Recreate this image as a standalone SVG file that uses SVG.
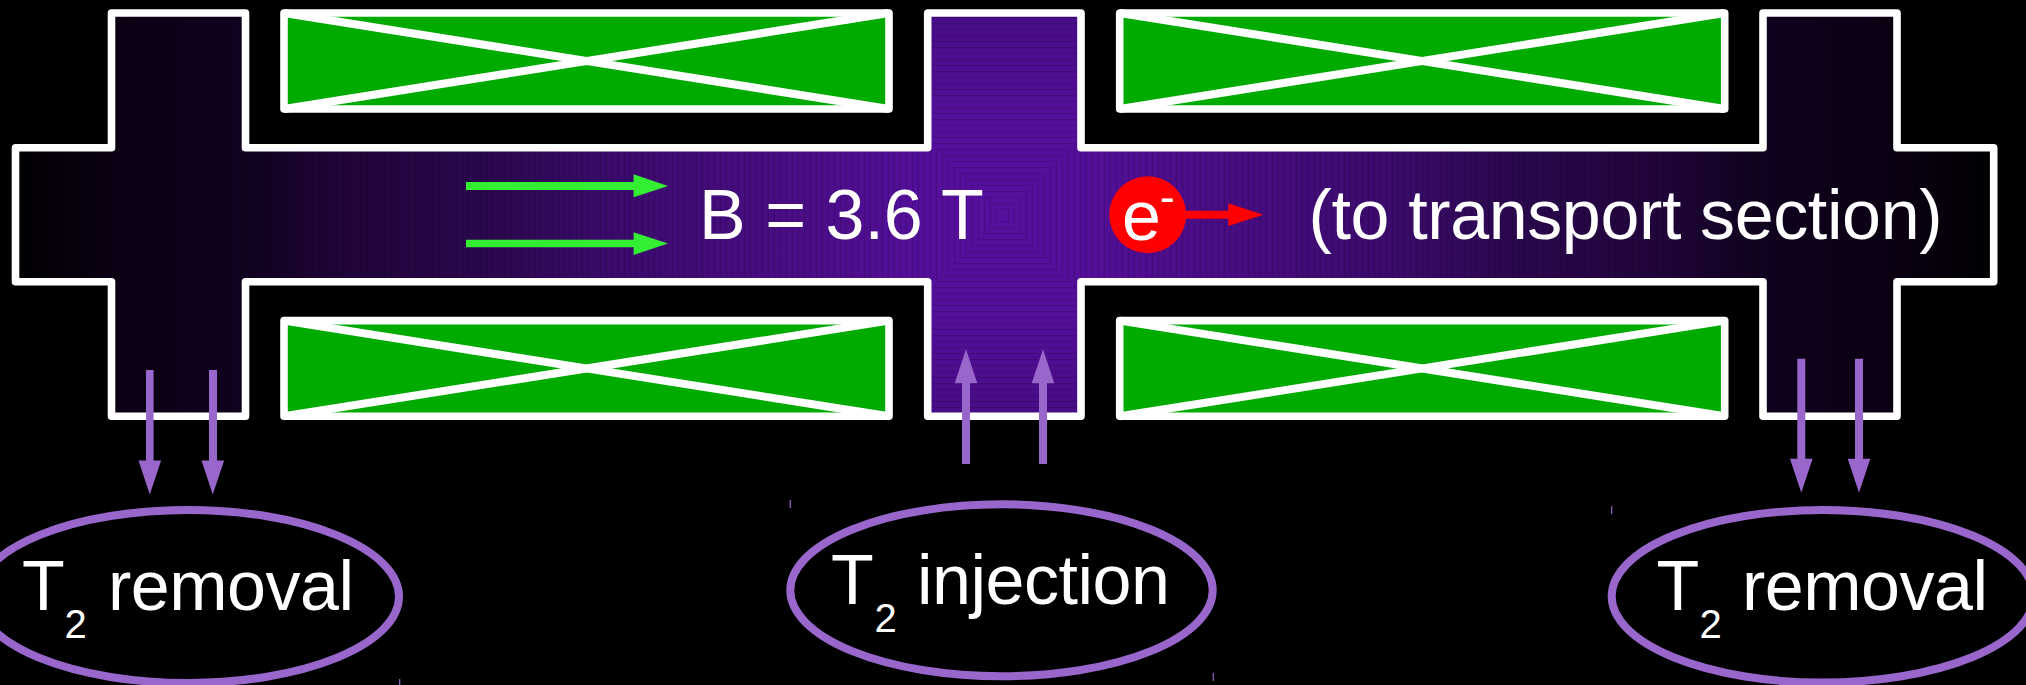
<svg xmlns="http://www.w3.org/2000/svg" width="2026" height="685" viewBox="0 0 2026 685">
<style>
.wall{fill:none;stroke:#fff;stroke-width:7.6;stroke-linejoin:round}
.coil{fill:#00ab00;stroke:#fff;stroke-width:7.6;stroke-linejoin:round}
.x{fill:none;stroke:#fff;stroke-width:8}
.port{fill:none;stroke:#96c;stroke-width:8}
.tick{stroke:#96c;stroke-width:1.2}
text{font-family:"Liberation Sans",Arial,Helvetica,sans-serif;fill:#fff}
.big{font-size:70px}
.sub{font-size:40px}
.g{fill:#3e3}
.p{fill:#96c}
.r{fill:#f00}
</style>
<defs>
<linearGradient id="gx" gradientUnits="userSpaceOnUse" x1="1002" y1="0" x2="2000" y2="0" spreadMethod="reflect">
<stop offset="0" stop-color="#560f9e"/><stop offset=".08" stop-color="#540f9a"/><stop offset=".2" stop-color="#4a0d86"/><stop offset=".4" stop-color="#3a0a6a"/><stop offset=".5" stop-color="#2c0850"/><stop offset=".67" stop-color="#1f0438"/><stop offset=".75" stop-color="#110220"/><stop offset=".9" stop-color="#0a0012"/><stop offset="1" stop-color="#000"/>
</linearGradient>
<linearGradient id="gy" gradientUnits="userSpaceOnUse" x1="0" y1="215" x2="0" y2="1213" spreadMethod="reflect">
<stop offset="0" stop-color="#560f9e"/><stop offset=".1" stop-color="#540f9a"/><stop offset=".2" stop-color="#480c86"/><stop offset="1" stop-color="#000"/>
</linearGradient>
<pattern id="vl" patternUnits="userSpaceOnUse" x="1002" y="0" width="6" height="6"><rect width="1" height="6" fill="#000" opacity=".16"/></pattern>
<pattern id="hl" patternUnits="userSpaceOnUse" x="0" y="215" width="6" height="6"><rect width="6" height="1" fill="#000" opacity=".16"/></pattern>
<clipPath id="cross"><path d="M15.5 147.7H111.5V13H245.5V147.7H927.7V13H1081V147.7H1763V13H1897V147.7H1993.7V281.7H1897V416.3H1763V281.7H1081V416.3H927.7V281.7H245.5V416.3H111.5V281.7H15.5Z"/></clipPath>
</defs>
<rect width="2026" height="685" fill="#000"/>
<g id="chamber">
<g clip-path="url(#cross)">
<rect x="0" y="0" width="2026" height="430" fill="url(#gx)"/>
<rect x="0" y="0" width="2026" height="430" fill="url(#vl)"/>
<polygon points="1002,215 788,0 1217,0" fill="url(#gy)"/>
<polygon points="1002,215 788,430 1217,430" fill="url(#gy)"/>
<polygon points="1002,215 788,0 1217,0" fill="url(#hl)"/>
<polygon points="1002,215 788,430 1217,430" fill="url(#hl)"/>
</g>
<path class="wall" d="M15.5 147.7H111.5V13H245.5V147.7H927.7V13H1081V147.7H1763V13H1897V147.7H1993.7V281.7H1897V416.3H1763V281.7H1081V416.3H927.7V281.7H245.5V416.3H111.5V281.7H15.5Z"/>
</g>
<g id="coil-top-left"><rect class="coil" x="284" y="13" width="605" height="96"/><path class="x" d="M284 13L889 109M284 109L889 13"/></g>
<g id="coil-top-right"><rect class="coil" x="1119.7" y="13" width="605" height="96"/><path class="x" d="M1119.7 13L1724.7 109M1119.7 109L1724.7 13"/></g>
<g id="coil-bottom-left"><rect class="coil" x="284" y="320.6" width="605" height="95.7"/><path class="x" d="M284 320.6L889 416.3M284 416.3L889 320.6"/></g>
<g id="coil-bottom-right"><rect class="coil" x="1119.7" y="320.6" width="605" height="95.7"/><path class="x" d="M1119.7 320.6L1724.7 416.3M1119.7 416.3L1724.7 320.6"/></g>
<g id="connectors">
<path class="g" d="M466 182H633.6V174.3L668 186L633.6 197.3V190H466Z"/>
<path class="g" d="M466 239.7H633.6V232.3L668 243.5L633.6 255V247.3H466Z"/>
<path class="r" d="M1180 210.7H1228.3V203.3L1263.3 214.7L1228.3 226V218.7H1180Z"/>
<path class="p" d="M962 464V383.3H954.7L966 349.3L977.3 383.3H970V464Z"/>
<path class="p" d="M1039 464V383.3H1031.7L1043 349.3L1054.3 383.3H1047V464Z"/>
<path class="p" d="M146 370V460.4H138.5L149.8 494.4L161.1 460.4H153.6V370Z"/>
<path class="p" d="M209 370V460.4H201.5L212.8 494.4L224.1 460.4H217V370Z"/>
<path class="p" d="M1797.3 358.7V458.7H1790L1801.3 492.7L1812.6 458.7H1805.3V358.7Z"/>
<path class="p" d="M1855 358.7V458.7H1847.7L1859 492.7L1870.3 458.7H1863V358.7Z"/>
</g>
<g id="label-field"><text class="big" x="699" y="239.3">B = 3.6 T</text></g>
<g id="electron"><circle class="r" cx="1147.7" cy="214.7" r="38.5"/><text class="big" x="1122" y="240">e</text><text font-size="44" x="1160" y="212">-</text></g>
<g id="label-transport"><text class="big" x="1308.5" y="239.3" textLength="634">(to transport section)</text></g>
<g id="removal-left"><ellipse class="port" cx="188" cy="596.5" rx="211" ry="86.5"/><line class="tick" x1="399.7" y1="679" x2="399.7" y2="685"/><text class="big" x="22" y="610">T</text><text class="sub" x="64.500" y="638">2</text><text class="big" x="108" y="610" textLength="246">removal</text></g>
<g id="injection"><ellipse class="port" cx="1001.5" cy="590.3" rx="211.2" ry="86"/><line class="tick" x1="790.3" y1="500" x2="790.3" y2="508"/><line class="tick" x1="1213.3" y1="673" x2="1213.3" y2="681"/><text class="big" x="831" y="604">T</text><text class="sub" x="874.500" y="632">2</text><text class="big" x="917" y="604" textLength="253">injection</text></g>
<g id="removal-right"><ellipse class="port" cx="1822.7" cy="596.3" rx="211" ry="86.3"/><line class="tick" x1="1611.7" y1="506.3" x2="1611.7" y2="514"/><text class="big" x="1656.500" y="610">T</text><text class="sub" x="1699.500" y="638">2</text><text class="big" x="1742" y="610" textLength="246">removal</text></g>
</svg>
